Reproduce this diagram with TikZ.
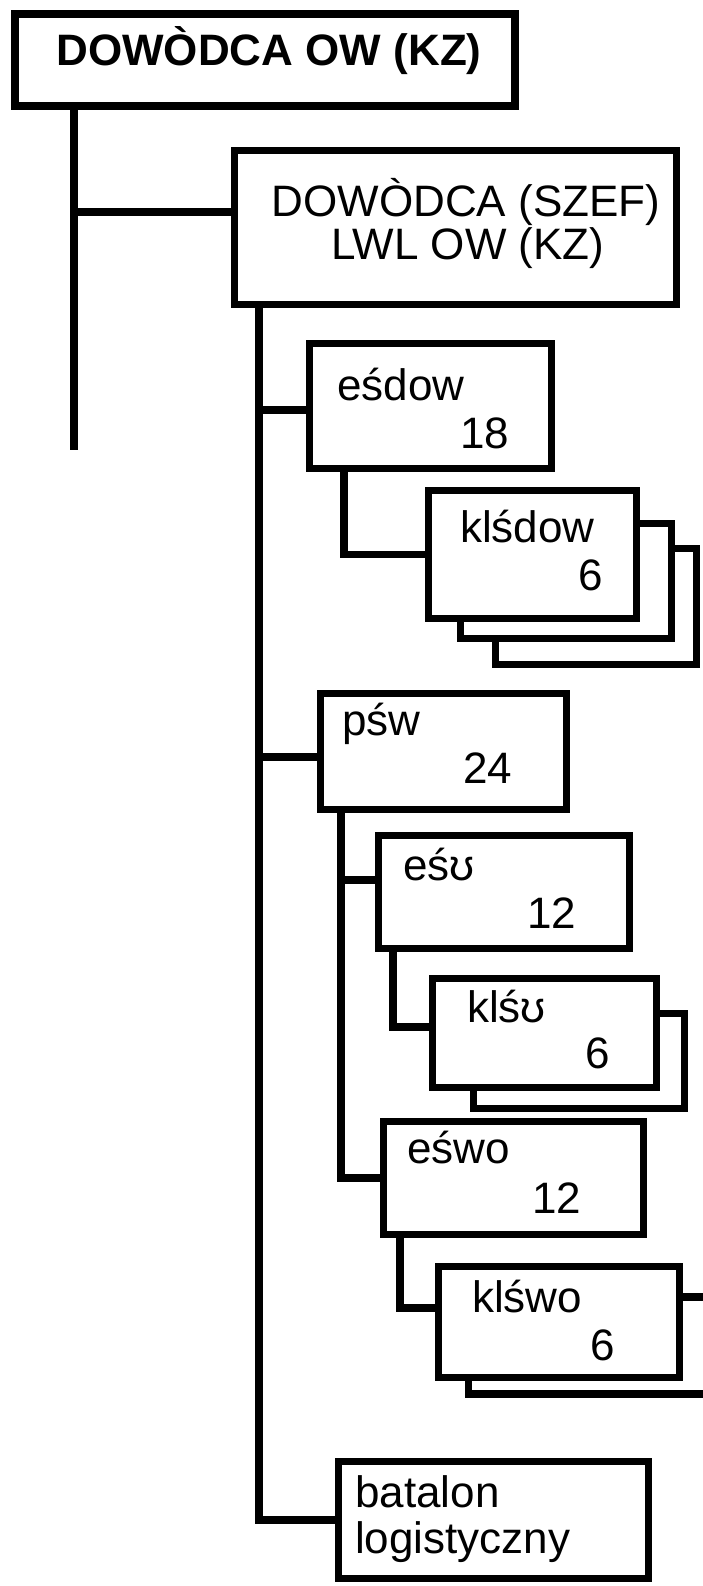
\documentclass[tikz,border=0pt]{standalone}
\usepackage{fontspec}
\setmainfont{Liberation Sans}
\usepackage{tikz}
\tikzset{
  unit/.style={draw=black, line width=7.5pt, fill=white, inner sep=0pt},
  back/.style={unit},
  link/.style={line width=7.5pt, color=black},
  lbl/.style={font=\fontsize{44}{50}\selectfont, inner sep=0pt, anchor=base west},
  head/.style={lbl, anchor=base, font=\bfseries\fontsize{44}{50}\selectfont},
}

\begin{document}
\begin{tikzpicture}[x=1pt, y=-1pt]
\useasboundingbox (0,0) rectangle (703,1586);

% top boxes
\node[unit, minimum width=500pt, minimum height=92pt] (dow) at (265,60) {};
\node[head] (dow-t) at (269,66) {DOWÒDCA OW (KZ)};
\node[unit, minimum width=442pt, minimum height=154pt] (chief) at (455.5,227.5) {};
\node[lbl, anchor=base] (chief-t1) at (466,217) {DOWÒDCA (SZEF)};
\node[lbl, anchor=base] (chief-t2) at (468,260) {LWL OW (KZ)};

% esdow + stacked klsdow
\node[unit, minimum width=242pt, minimum height=125pt] (esdow) at (430.5,406) {};
\node[lbl] (esdow-t) at (337,400) {eśdow};
\node[lbl] (esdow-n) at (460,448) {18};
\node[back, minimum width=201pt, minimum height=116pt] (klsdow-b2) at (596,606.5) {};
\node[back, minimum width=211pt, minimum height=115pt] (klsdow-b1) at (566,581) {};
\node[unit, minimum width=208pt, minimum height=128pt] (klsdow) at (532.5,554.5) {};
\node[lbl] (klsdow-t) at (460,542) {klśdow};
\node[lbl] (klsdow-n) at (578,590) {6};

% psw
\node[unit, minimum width=246pt, minimum height=116pt] (psw) at (443.5,751.5) {};
\node[lbl] (psw-t) at (342,735) {pśw};
\node[lbl] (psw-n) at (463,783) {24};

\node[unit, minimum width=251pt, minimum height=113pt] (esu) at (504,892) {};
\node[lbl] (esu-t) at (403,880) {eśʊ};
\node[lbl] (esu-n) at (527,928) {12};
\node[back, minimum width=211pt, minimum height=95pt] (klsu-b) at (579,1061) {};
\node[unit, minimum width=224pt, minimum height=109pt] (klsu) at (544.5,1033) {};
\node[lbl] (klsu-t) at (467,1022) {klśʊ};
\node[lbl] (klsu-n) at (585,1068) {6};

\node[unit, minimum width=260pt, minimum height=113pt] (eswo) at (513.5,1178) {};
\node[lbl] (eswo-t) at (407,1163) {eśwo};
\node[lbl] (eswo-n) at (532,1213) {12};
\node[back, minimum width=261.5pt, minimum height=97pt] (klswo-b) at (599.25,1345.5) {};
\node[unit, minimum width=241pt, minimum height=111pt] (klswo) at (559,1322) {};
\node[lbl] (klswo-t) at (472,1312) {klśwo};
\node[lbl] (klswo-n) at (590,1360) {6};

% logistics
\node[unit, minimum width=310pt, minimum height=117pt] (bat) at (493.5,1520) {};
\node[lbl] (bat-t1) at (355,1507) {batalon};
\node[lbl] (bat-t2) at (355,1553) {logistyczny};

% connectors
\coordinate (t1) at (74,450);
\coordinate (t2) at ([xshift=28pt]chief.south west);
\coordinate (p2) at ([xshift=24pt]psw.south west);
\draw[link] (dow.south -| t1) -- (t1);
\draw[link] ([yshift=15.5pt]chief.west) -- ([yshift=15.5pt]chief.west -| t1);
\draw[link] (t2) |- (bat.west);
\draw[link] ([yshift=-4pt]esdow.west) -- ([yshift=-4pt]esdow.west -| t2);
\draw[link] ([yshift=-5.5pt]psw.west) -- ([yshift=-5.5pt]psw.west -| t2);
\draw[link] ([xshift=38pt]esdow.south west) |- (klsdow.west);
\draw[link] (p2) |- (eswo.west);
\draw[link] ([yshift=12pt]esu.west) -- ([yshift=12pt]esu.west -| p2);
\draw[link] ([xshift=18pt]esu.south west) |- ([yshift=6pt]klsu.west);
\draw[link] ([xshift=20pt]eswo.south west) |- ([yshift=14pt]klswo.west);
\end{tikzpicture}
\end{document}
